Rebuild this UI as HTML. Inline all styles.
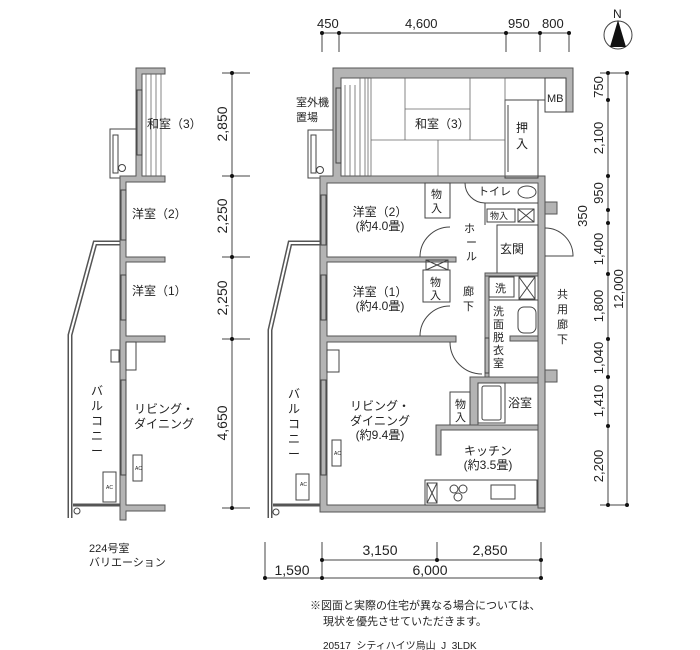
<!DOCTYPE html>
<html><head><meta charset="utf-8"><style>
body{margin:0;background:#fff}
svg{display:block}
text{font-family:"Liberation Sans","Noto Sans CJK JP",sans-serif;fill:#222}
.w{fill:#b4b4b4;stroke:#555;stroke-width:1}
.l{stroke:#444;stroke-width:1;fill:none}
.t{stroke:#666;stroke-width:.8;fill:none}
.d{fill:#111}
</style></head><body>
<svg width="700" height="650" viewBox="0 0 700 650" xmlns="http://www.w3.org/2000/svg">
<circle cx="618" cy="35" r="14" class="l" stroke-width="1.2"/>
<polygon points="618,20 610,47 626,47" fill="#111"/>
<text x="613" y="18" font-size="12">N</text>

<line x1="322" y1="33" x2="569" y2="33" class="l"/>
<g class="l"><line x1="322" y1="33" x2="322" y2="52"/><line x1="339" y1="33" x2="339" y2="52"/><line x1="506" y1="33" x2="506" y2="52"/><line x1="540" y1="33" x2="540" y2="52"/><line x1="569" y1="33" x2="569" y2="52"/></g>
<g class="d"><circle cx="322" cy="33" r="2"/><circle cx="339" cy="33" r="2"/><circle cx="506" cy="33" r="2"/><circle cx="540" cy="33" r="2"/><circle cx="569" cy="33" r="2"/></g>
<g font-size="13"><text x="317" y="28">450</text><text x="405" y="28">4,600</text><text x="508" y="28">950</text><text x="542" y="28">800</text></g>

<line x1="608" y1="73" x2="608" y2="505" class="l"/>
<line x1="627" y1="73" x2="627" y2="505" class="l"/>
<line x1="600" y1="73" x2="627" y2="73" class="l"/><line x1="600" y1="505" x2="627" y2="505" class="l"/>
<g class="d"><circle cx="608" cy="73" r="2"/><circle cx="608" cy="100" r="2"/><circle cx="608" cy="176" r="2"/><circle cx="608" cy="210" r="2"/><circle cx="608" cy="223" r="2"/><circle cx="608" cy="274" r="2"/><circle cx="608" cy="339" r="2"/><circle cx="608" cy="377" r="2"/><circle cx="608" cy="426" r="2"/><circle cx="608" cy="505" r="2"/><circle cx="627" cy="73" r="2"/><circle cx="627" cy="505" r="2"/></g>
<g font-size="13" text-anchor="middle">
<text transform="translate(603,87) rotate(-90)">750</text>
<text transform="translate(603,138) rotate(-90)">2,100</text>
<text transform="translate(603,193) rotate(-90)">950</text>
<text transform="translate(587,216) rotate(-90)">350</text>
<text transform="translate(603,249) rotate(-90)">1,400</text>
<text transform="translate(603,306) rotate(-90)">1,800</text>
<text transform="translate(603,358) rotate(-90)">1,040</text>
<text transform="translate(603,401) rotate(-90)">1,410</text>
<text transform="translate(603,466) rotate(-90)">2,200</text>
<text transform="translate(623,289) rotate(-90)">12,000</text>
</g>

<line x1="232" y1="73" x2="232" y2="508" class="l"/>
<g class="l"><line x1="222" y1="73" x2="250" y2="73"/><line x1="222" y1="176" x2="250" y2="176"/><line x1="222" y1="257" x2="250" y2="257"/><line x1="222" y1="339" x2="250" y2="339"/><line x1="222" y1="508" x2="250" y2="508"/></g>
<g class="d"><circle cx="232" cy="73" r="2"/><circle cx="232" cy="176" r="2"/><circle cx="232" cy="257" r="2"/><circle cx="232" cy="339" r="2"/><circle cx="232" cy="508" r="2"/></g>
<g font-size="14" text-anchor="middle">
<text transform="translate(227,124) rotate(-90)">2,850</text>
<text transform="translate(227,216) rotate(-90)">2,250</text>
<text transform="translate(227,298) rotate(-90)">2,250</text>
<text transform="translate(227,423) rotate(-90)">4,650</text>
</g>

<line x1="322" y1="560" x2="541" y2="560" class="l"/>
<line x1="265" y1="578" x2="541" y2="578" class="l"/>
<g class="l"><line x1="265" y1="542" x2="265" y2="578"/><line x1="322" y1="542" x2="322" y2="578"/><line x1="437" y1="542" x2="437" y2="560"/><line x1="541" y1="542" x2="541" y2="578"/></g>
<g class="d"><circle cx="322" cy="560" r="2"/><circle cx="437" cy="560" r="2"/><circle cx="541" cy="560" r="2"/><circle cx="265" cy="578" r="2"/><circle cx="322" cy="578" r="2"/><circle cx="541" cy="578" r="2"/></g>
<g font-size="14" text-anchor="middle"><text x="380" y="555">3,150</text><text x="490" y="555">2,850</text><text x="292" y="575">1,590</text><text x="430" y="575">6,000</text></g>

<g font-size="11"><text x="310" y="609">※図面と実際の住宅が異なる場合については、</text><text x="323" y="625">現状を優先させていただきます。</text>
<text x="323" y="649" font-size="10">20517_シティハイツ烏山_J_3LDK</text></g>

<polyline points="320,243 290,243 270,330 270,518" fill="none" stroke="#555" stroke-width="5"/>
<polyline points="320,243 290,243 270,330 270,518" fill="none" stroke="#fff" stroke-width="2"/>
<line x1="273" y1="505" x2="320" y2="505" stroke="#555" stroke-width="3"/>
<circle cx="276" cy="512" r="3" class="l"/>
<rect x="296" y="474" width="13" height="26" class="l"/><text x="300" y="486" font-size="5">AC</text>
<rect x="332" y="440" width="9" height="26" class="l"/><text x="334" y="455" font-size="5">AC</text>

<rect x="308" y="130" width="25" height="48" class="l"/>
<rect x="311" y="135" width="5" height="38" class="l"/>
<circle cx="320" cy="170" r="3.5" class="l"/>

<path class="w" d="M333,68 H573 V112 H566 V78 H341 V176 H545 V508 H538 V183 H327 V257 H456 V262 H327 V336 H456 V342 H327 V505 H538 V508 H545 V512 H320 V176 H333 Z"/>
<rect x="545" y="202" width="12" height="12" class="w"/>
<rect x="545" y="370" width="12" height="12" class="w"/>
<rect x="545" y="78" width="21" height="34" class="l"/>
<text x="547" y="102" font-size="11">MB</text>
<line x1="505" y1="100" x2="545" y2="100" class="l"/>
<rect x="505" y="100" width="33" height="78" class="l"/>
<line x1="508" y1="105" x2="508" y2="172" class="l"/>
<text x="516" y="132" font-size="12">押</text><text x="516" y="148" font-size="12">入</text>
<g class="t"><rect x="371" y="78" width="134" height="98"/>
<line x1="405" y1="78" x2="405" y2="140"/><line x1="470" y1="78" x2="470" y2="140"/><line x1="405" y1="109" x2="470" y2="109"/><line x1="371" y1="140" x2="505" y2="140"/><line x1="438" y1="140" x2="438" y2="176"/></g>
<g class="t"><line x1="345" y1="85" x2="345" y2="176"/><line x1="350" y1="85" x2="350" y2="176"/><line x1="355" y1="85" x2="355" y2="176"/><line x1="360" y1="78" x2="360" y2="176"/><line x1="365" y1="78" x2="365" y2="176"/><line x1="368" y1="78" x2="368" y2="176"/></g>
<rect x="336" y="88" width="5" height="75" fill="#fff" class="l"/>
<text x="415" y="128" font-size="12">和室（3）</text>
<text x="296" y="106" font-size="11">室外機</text><text x="296" y="121" font-size="11">置場</text>

<rect x="321" y="195" width="5" height="50" fill="#fff" class="l"/>
<rect x="321" y="275" width="5" height="45" fill="#fff" class="l"/>
<rect x="321" y="380" width="5" height="95" fill="#fff" class="l"/>
<rect x="327" y="350" width="12" height="22" class="l"/>

<rect x="425" y="183" width="25" height="35" class="l"/><text x="431" y="198" font-size="11">物</text><text x="431" y="212" font-size="11">入</text>
<text x="380" y="216" font-size="12" text-anchor="middle">洋室（2）</text>
<text x="380" y="230" font-size="12" text-anchor="middle">(約4.0畳)</text>
<path d="M420,257 A30,30 0 0 1 450,227" class="l"/>
<path d="M465,183 A20,20 0 0 0 485,203" class="l"/>
<line x1="485" y1="203" x2="538" y2="203" class="l"/>
<line x1="485" y1="203" x2="485" y2="225" class="l"/>
<text x="478" y="195" font-size="11">トイレ</text>
<ellipse cx="527" cy="192" rx="9" ry="6" class="l"/>
<rect x="487" y="209" width="28" height="13" class="l"/><text x="490" y="219" font-size="9">物入</text>
<rect x="518" y="209" width="16" height="13" class="l"/><path d="M518,209 L534,222 M534,209 L518,222" class="l"/>
<rect x="497" y="225" width="41" height="50" class="l"/>
<text x="500" y="253" font-size="12">玄関</text>
<path d="M545,228 A28,28 0 0 1 573,256 L545,256" class="l"/>
<text x="464" y="232" font-size="11">ホ</text><text x="466" y="246" font-size="11">ー</text><text x="466" y="260" font-size="11">ル</text>

<rect x="423" y="270" width="27" height="32" class="l"/>
<rect x="426" y="260" width="22" height="10" class="l"/><path d="M426,260 L448,270 M448,260 L426,270" class="l"/>
<text x="430" y="286" font-size="11">物</text><text x="430" y="299" font-size="11">入</text>
<text x="380" y="296" font-size="12" text-anchor="middle">洋室（1）</text>
<text x="380" y="310" font-size="12" text-anchor="middle">(約4.0畳)</text>
<path d="M420,336 A30,30 0 0 1 450,306" class="l"/>
<text x="463" y="295" font-size="11">廊</text><text x="463" y="310" font-size="11">下</text>
<path d="M450,342 A32,32 0 0 0 482,374" class="l"/>

<!-- wash room -->
<rect x="485" y="273" width="4" height="104" class="w"/>
<rect x="485" y="273" width="53" height="3" class="w"/>
<rect x="489" y="277" width="25" height="20" class="l"/><text x="495" y="292" font-size="11">洗</text>
<rect x="519" y="277" width="16" height="22" class="l"/><path d="M519,277 L535,299 M535,277 L519,299" class="l"/>
<line x1="489" y1="300" x2="538" y2="300" class="l"/>
<rect x="518" y="307" width="18" height="26" rx="6" class="l"/>
<rect x="510" y="336" width="28" height="5" class="w"/>
<g font-size="11"><text x="493" y="315">洗</text><text x="493" y="328">面</text><text x="493" y="341">脱</text><text x="493" y="354">衣</text><text x="493" y="367">室</text></g>
<rect x="485" y="338" width="4" height="35" fill="#fff" class="l"/>
<text x="557" y="298" font-size="11">共</text><text x="557" y="313" font-size="11">用</text><text x="557" y="328" font-size="11">廊</text><text x="557" y="343" font-size="11">下</text>

<path class="w" d="M470,377 H538 V383 H478 V427 H470 Z"/>
<rect x="478" y="383" width="27" height="40" class="l"/><rect x="482" y="386" width="19" height="34" rx="2" class="l"/>
<text x="508" y="407" font-size="12">浴室</text>
<rect x="450" y="392" width="20" height="35" class="l"/><text x="455" y="408" font-size="11">物</text><text x="455" y="421" font-size="11">入</text>
<path class="w" d="M436,425 H538 V430 H441 V455 H436 Z"/>
<text x="488" y="455" font-size="12" text-anchor="middle">キッチン</text>
<text x="488" y="469" font-size="12" text-anchor="middle">(約3.5畳)</text>
<rect x="425" y="480" width="112" height="25" class="l"/>
<rect x="427" y="483" width="10" height="20" class="l"/><path d="M427,483 L437,503 M437,483 L427,503" class="l"/>
<g class="l"><circle cx="454" cy="489" r="4"/><circle cx="463" cy="489" r="4"/><circle cx="458" cy="497" r="4"/></g>
<rect x="491" y="485" width="24" height="14" class="l"/>
<text x="380" y="410" font-size="12" text-anchor="middle">リビング・</text>
<text x="380" y="425" font-size="12" text-anchor="middle">ダイニング</text>
<text x="380" y="439" font-size="12" text-anchor="middle">(約9.4畳)</text>
<g font-size="12"><text x="288" y="398">バ</text><text x="288" y="413">ル</text><text x="288" y="428">コ</text><text x="288" y="443">ニ</text><text x="288" y="458">ー</text></g>

<polyline points="122,243 95,243 70,335 70,518" fill="none" stroke="#555" stroke-width="5"/>
<polyline points="122,243 95,243 70,335 70,518" fill="none" stroke="#fff" stroke-width="2"/>
<line x1="73" y1="505" x2="120" y2="505" stroke="#555" stroke-width="3"/>
<circle cx="77" cy="511" r="3" class="l"/>
<rect x="110" y="129" width="26" height="49" class="l"/><rect x="113" y="135" width="5" height="38" class="l"/><circle cx="122" cy="168" r="3.5" class="l"/>
<path class="w" d="M136,68 H165 V74 H142 V176 H165 V182 H126 V257 H165 V262 H126 V336 H165 V342 H126 V505 H165 V511 H126 V520 H120 V176 H136 Z"/>
<g class="t"><line x1="146" y1="74" x2="146" y2="176"/><line x1="151" y1="74" x2="151" y2="176"/><line x1="156" y1="74" x2="156" y2="176"/><line x1="161" y1="74" x2="161" y2="176"/></g>
<rect x="137" y="90" width="5" height="65" fill="#fff" class="l"/>
<rect x="121" y="190" width="5" height="50" fill="#fff" class="l"/>
<rect x="121" y="275" width="5" height="45" fill="#fff" class="l"/>
<rect x="121" y="380" width="5" height="95" fill="#fff" class="l"/>
<rect x="126" y="342" width="10" height="28" class="l"/><rect x="111" y="350" width="8" height="12" class="l"/>
<rect x="133" y="455" width="9" height="26" class="l"/><text x="135" y="470" font-size="5">AC</text>
<rect x="103" y="472" width="13" height="30" class="l"/><text x="106" y="489" font-size="5">AC</text>
<g font-size="12"><text x="147" y="128">和室（3）</text><text x="132" y="218">洋室（2）</text><text x="132" y="295">洋室（1）</text><text x="134" y="413">リビング・</text><text x="134" y="428">ダイニング</text></g>
<g font-size="12"><text x="91" y="395">バ</text><text x="91" y="410">ル</text><text x="91" y="425">コ</text><text x="91" y="440">ニ</text><text x="91" y="455">ー</text></g>
<text x="89" y="552" font-size="11">224号室</text><text x="89" y="566" font-size="11">バリエーション</text>
</svg>
</body></html>
